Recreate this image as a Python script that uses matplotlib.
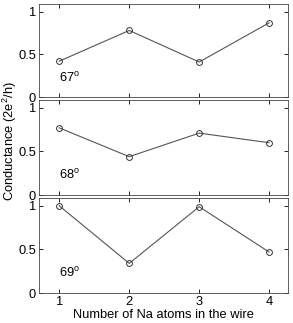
import matplotlib
matplotlib.use("Agg")
import matplotlib.pyplot as plt

plt.rcParams['font.family'] = ['Liberation Sans', 'DejaVu Sans']
plt.rcParams['font.size'] = 9.3
plt.rcParams['mathtext.fontset'] = 'custom'
plt.rcParams['mathtext.rm'] = 'Liberation Sans'

atoms = [1, 2, 3, 4]
g67 = [0.42, 0.78, 0.41, 0.87]
g68 = [0.77, 0.44, 0.71, 0.60]
g69 = [1.00, 0.34, 0.99, 0.47]
series = [g67, g68, g69]
angles = ['67$^{\\rm o}$', '68$^{\\rm o}$', '69$^{\\rm o}$']

fig = plt.figure(figsize=(2.93, 3.23), dpi=100)
W, H = 293, 323
left, right = 39, 288
tops = [4, 100, 198]
bottoms = [97, 195, 293]

for i in range(3):
    ax = fig.add_axes([left / W, 1 - bottoms[i] / H, (right - left) / W, (bottoms[i] - tops[i]) / H])
    ax.plot(atoms, series[i], color='#555555', lw=0.8, marker='o', ms=4.2,
            mfc='none', mec='#333333', mew=0.7)
    ax.set_xlim(0.71, 4.27)
    ax.set_ylim(0, 1.09)
    ax.set_yticks([0, 0.5, 1])
    ax.set_yticklabels(['0', '0.5', '1'])
    ax.set_xticks(atoms)
    ax.tick_params(direction='in', top=True, right=True, length=3, width=0.6, pad=2)
    for s in ax.spines.values():
        s.set_linewidth(0.6)
        s.set_color('#444444')
    ax.text(1.0, 0.18, angles[i])
    if i < 2:
        ax.set_xticklabels([])
    else:
        ax.set_xlabel('Number of Na atoms in the wire', labelpad=1)

fig.text(9.5 / W, 1 - 141 / H, 'Conductance (2e$^2$/h)', rotation=90, va='center', ha='center')
fig.savefig('out.png', dpi=100)
